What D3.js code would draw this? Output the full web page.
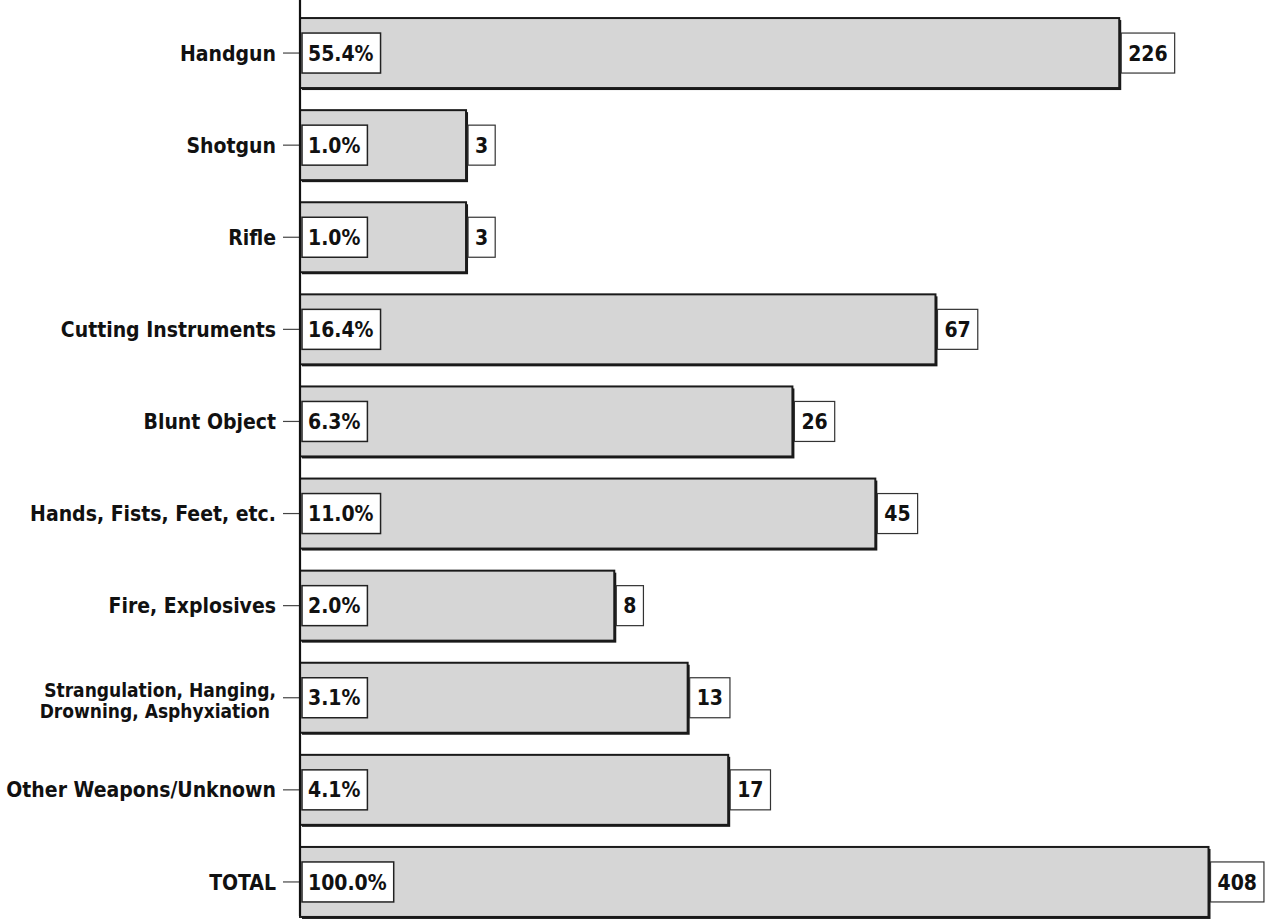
<!DOCTYPE html>
<html><head><meta charset="utf-8">
<script src="https://cdn.jsdelivr.net/npm/d3@7"></script>
<style>
body{margin:0;background:#fff;}
text{font-family:"Liberation Sans Narrow","DejaVu Sans Condensed","Arial Narrow",sans-serif;font-weight:bold;fill:#111;}
</style></head><body>
<svg id="c" width="1268" height="923"></svg>
<script>
const categories = ["Handgun","Shotgun","Rifle","Cutting Instruments","Blunt Object","Hands, Fists, Feet, etc.","Fire, Explosives","Strangulation, Hanging,\nDrowning, Asphyxiation","Other Weapons/Unknown","TOTAL"];
const counts = [226,3,3,67,26,45,8,13,17,408];
const percents = ["55.4%","1.0%","1.0%","16.4%","6.3%","11.0%","2.0%","3.1%","4.1%","100.0%"];

const svg = d3.select("#c");
const x = d3.scaleLog().domain([1,1000]).range([300,1344]);
const y = d3.scaleBand().domain(categories).range([7,928]).paddingInner(0.24).paddingOuter(0.12);

const data = categories.map((c,i)=>({c, v:counts[i], p:percents[i]}));

const g = svg.append("g");
const bars = g.selectAll("g.bar").data(data).join("g").attr("class","bar");
bars.append("rect")
  .attr("x", d=>x(1)+2).attr("y", d=>y(d.c)+2)
  .attr("width", d=>x(d.v)-x(1)).attr("height", y.bandwidth())
  .attr("fill","#1a1a1a");
bars.append("rect")
  .attr("x", d=>x(1)).attr("y", d=>y(d.c))
  .attr("width", d=>x(d.v)-x(1)).attr("height", y.bandwidth())
  .attr("fill","#d6d6d6").attr("stroke","#1a1a1a").attr("stroke-width",2);

const ph = 40;
bars.each(function(d){
  const sel = d3.select(this);
  const cy = y(d.c)+y.bandwidth()/2;
  const t = sel.append("text").attr("x", x(1)+8).attr("y", cy).attr("dy","0.36em")
    .attr("font-size",21).text(d.p);
  const w = t.node().getComputedTextLength();
  sel.insert("rect","text").attr("x", x(1)+2).attr("y", cy-ph/2)
    .attr("width", w+13).attr("height", ph)
    .attr("fill","#fff").attr("stroke","#222").attr("stroke-width",1.5);
  const xe = x(d.v)+2;
  const t2 = sel.append("text").attr("x", xe+7).attr("y", cy).attr("dy","0.36em")
    .attr("font-size",21).text(d.v);
  const w2 = t2.node().getComputedTextLength();
  sel.insert("rect","text:last-child").attr("x", xe).attr("y", cy-ph/2)
    .attr("width", w2+14).attr("height", ph)
    .attr("fill","#fff").attr("stroke","#333").attr("stroke-width",1.2);
});

const axis = d3.axisLeft(y).tickSize(17).tickPadding(7).tickFormat("");
const ax = svg.append("g").attr("transform",`translate(${x(1)},0)`).call(axis);
ax.select(".domain").remove();
ax.selectAll(".tick line").attr("stroke","#444").attr("stroke-width",1.2);
svg.append("line").attr("x1",x(1)).attr("x2",x(1)).attr("y1",0).attr("y2",916)
  .attr("stroke","#111").attr("stroke-width",2.2);

ax.selectAll(".tick").each(function(c){
  const lines = c.split("\n");
  const multi = lines.length > 1;
  const lh = 21;
  lines.forEach((l,i)=>{
    d3.select(this).append("text").attr("text-anchor","end")
      .attr("x", -24 - (multi && i===1 ? 6 : 0))
      .attr("font-size", multi ? 19 : 21).style("fill","#111")
      .attr("y", (i-(lines.length-1)/2)*lh + (multi ? 3 : 0)).attr("dy","0.36em").text(l);
  });
});
</script>
</body></html>
